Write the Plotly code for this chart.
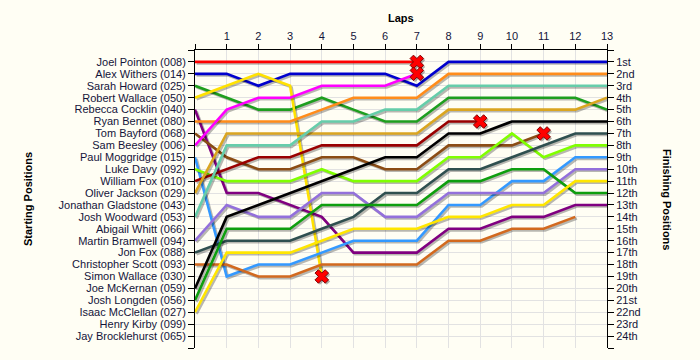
import plotly.graph_objects as go

# ---------------- data ----------------
laps = list(range(0, 14))
lap_labels = [""] + [str(i) for i in range(1, 14)]

starting_names = [
    "Joel Pointon (008)", "Alex Withers (014)", "Sarah Howard (025)",
    "Robert Wallace (050)", "Rebecca Cocklin (040)", "Ryan Bennet (080)",
    "Tom Bayford (068)", "Sam Beesley (006)", "Paul Moggridge (015)",
    "Luke Davy (092)", "William Fox (010)", "Oliver Jackson (029)",
    "Jonathan Gladstone (043)", "Josh Woodward (053)", "Abigail Whitt (066)",
    "Martin Bramwell (094)", "Jon Fox (088)", "Christopher Scott (093)",
    "Simon Wallace (030)", "Joe McKernan (059)", "Josh Longden (056)",
    "Isaac McClellan (027)", "Henry Kirby (099)", "Jay Brocklehurst (065)",
]
finishing_labels = [
    "1st", "2nd", "3rd", "4th", "5th", "6th", "7th", "8th", "9th", "10th",
    "11th", "12th", "13th", "14th", "15th", "16th", "17th", "18th", "19th",
    "20th", "21st", "22nd", "23rd", "24th",
]

# position on each lap (lap 0 = grid)
pointon   = [1, 1, 1, 1, 1, 1, 1, 1]
withers   = [2, 2, 3, 2, 2, 2, 2, 3, 1, 1, 1, 1, 1, 1]
howard    = [3, 4, 5, 5, 4, 5, 6, 6, 4, 4, 4, 4, 4, 5]
r_wallace = [4, 3, 2, 3, 19]
cocklin   = [5, 12, 12, 13, 14, 17, 17, 17, 15, 15, 14, 14, 13, 13]
bennet    = [6, 6, 6, 6, 5, 4, 4, 4, 2, 2, 2, 2, 2, 2]
bayford   = [7, 9, 10, 10, 9, 9, 10, 10, 8, 8, 8, 7]
beesley   = [8, 5, 4, 4, 3, 3, 3, 2]
moggridge = [9, 19, 18, 18, 17, 16, 16, 16, 13, 13, 11, 11, 9, 9]
davy      = [10, 11, 11, 11, 10, 11, 11, 11, 9, 9, 7, 9, 8, 8]
w_fox     = [11, 10, 9, 9, 8, 8, 8, 8, 6, 6]
jackson   = [12, 7, 7, 7, 7, 7, 7, 7, 5, 5, 5, 5, 5, 4]
woodward  = [14, 8, 8, 8, 6, 6, 5, 5, 3, 3, 3, 3, 3, 3]
bramwell  = [16, 13, 14, 14, 12, 12, 14, 14, 12, 12, 12, 12, 10, 10]
j_fox     = [17, 16, 16, 16, 15, 14, 12, 12, 10, 10, 9, 8, 7, 7]
scott     = [18, 18, 19, 19, 18, 18, 18, 18, 16, 16, 15, 15, 14]
mckernan  = [20, 14, 13, 12, 11, 10, 9, 9, 7, 7, 6, 6, 6, 6]
longden   = [21, 15, 15, 15, 13, 13, 13, 13, 11, 11, 10, 10, 12, 12]
mcclellan = [22, 17, 17, 17, 16, 15, 15, 15, 14, 14, 13, 13, 11, 11]

series = [
    ("Joel Pointon", pointon, "#FF0000", True),
    ("Alex Withers", withers, "#0000CD", False),
    ("Sarah Howard", howard, "#1E9E1E", False),
    ("Robert Wallace", r_wallace, "#FFE100", True),
    ("Rebecca Cocklin", cocklin, "#800080", False),
    ("Ryan Bennet", bennet, "#FF8C1A", False),
    ("Tom Bayford", bayford, "#8B4C14", True),
    ("Sam Beesley", beesley, "#FF00FF", True),
    ("Paul Moggridge", moggridge, "#3399FF", False),
    ("Luke Davy", davy, "#80FF00", False),
    ("William Fox", w_fox, "#990000", True),
    ("Oliver Jackson", jackson, "#DAA520", False),
    ("Josh Woodward", woodward, "#66CDAA", False),
    ("Martin Bramwell", bramwell, "#9370DB", False),
    ("Jon Fox", j_fox, "#2F4F4F", False),
    ("Christopher Scott", scott, "#D2691E", False),
    ("Joe McKernan", mckernan, "#000000", False),
    ("Josh Longden", longden, "#0E9E0E", False),
    ("Isaac McClellan", mcclellan, "#FFE600", False),
]

# ---------------- figure ----------------
W, H = 700, 360
ML, MR, MT, MB = 195, 93, 50, 12
PW, PH = W - ML - MR, H - MT - MB
NLAP, NPOS = 13, 25
# shadow offset (pixels converted to axis units)
sdx = 1.6 * NLAP / PW
sdy = 1.6 * NPOS / PH

fig = go.Figure()

for name, pos, col, retired in series:
    xs = laps[:len(pos)]
    fig.add_trace(go.Scatter(
        x=[v + sdx for v in xs], y=[v + sdy for v in pos], mode="lines",
        line=dict(color="rgba(0,0,0,0.28)", width=2.6),
        hoverinfo="skip", showlegend=False))
    fig.add_trace(go.Scatter(
        x=xs, y=pos, mode="lines", name=name,
        line=dict(color=col, width=2.6), showlegend=False))

ret_x, ret_y = [], []
for name, pos, col, retired in series:
    if retired:
        ret_x.append(laps[len(pos) - 1])
        ret_y.append(pos[-1])

fig.add_trace(go.Scatter(
    x=[v + sdx for v in ret_x], y=[v + sdy for v in ret_y], mode="markers",
    marker=dict(symbol="x", size=12, color="rgba(0,0,0,0.3)",
                line=dict(width=0)),
    hoverinfo="skip", showlegend=False))
fig.add_trace(go.Scatter(
    x=ret_x, y=ret_y, mode="markers",
    marker=dict(symbol="x", size=12, color="#FF0000",
                line=dict(color="#800000", width=1)),
    showlegend=False, name="Retired"))

# anchor trace for the right axis
fig.add_trace(go.Scatter(x=[0], y=[0], yaxis="y2", mode="markers",
                         marker=dict(opacity=0), hoverinfo="skip",
                         showlegend=False))

txt = "#14143A"
tick_font = dict(family="Liberation Sans, Arial, sans-serif", size=11, color=txt)
title_font = dict(family="Liberation Sans, Arial, sans-serif", size=11,
                  color="#000000")
bg = "#FFFEF4"

fig.update_layout(
    width=W, height=H, autosize=False,
    margin=dict(l=ML, r=MR, t=MT, b=MB, pad=0),
    paper_bgcolor=bg, plot_bgcolor=bg,
    showlegend=False,
    xaxis=dict(
        range=[0, NLAP], side="top", tickmode="array",
        tickvals=laps, ticktext=lap_labels,
        ticks="outside", ticklen=5, tickcolor="#000000", tickwidth=1,
        showline=True, linecolor="#000000", linewidth=1,
        showgrid=True, gridcolor="#E2E2E2", gridwidth=1,
        zeroline=False, tickfont=tick_font, fixedrange=True,
    ),
    yaxis=dict(
        range=[NPOS, 0], tickmode="array",
        tickvals=list(range(0, NPOS + 1)),
        ticktext=[""] + starting_names + [""],
        ticks="outside", ticklen=6, tickcolor="#000000", tickwidth=1,
        showline=True, linecolor="#000000", linewidth=1,
        showgrid=True, gridcolor="#E2E2E2", gridwidth=1,
        zeroline=False, tickfont=tick_font, fixedrange=True,
    ),
    yaxis2=dict(
        range=[NPOS, 0], overlaying="y", side="right", tickmode="array",
        tickvals=list(range(0, NPOS + 1)),
        ticktext=[""] + finishing_labels + [""],
        ticks="outside", ticklen=6, tickcolor="#000000", tickwidth=1,
        showline=True, linecolor="#000000", linewidth=1,
        showgrid=False, zeroline=False, tickfont=tick_font, fixedrange=True,
    ),
    annotations=[
        dict(text="<b>Laps</b>", xref="paper", yref="paper",
             x=0.5, y=1 + (MT - 18) / PH, xanchor="center", yanchor="middle",
             showarrow=False, font=title_font),
        dict(text="<b>Starting Positions</b>", xref="paper", yref="paper",
             x=(28 - ML) / PW, y=0.5, xanchor="center", yanchor="middle",
             textangle=-90, showarrow=False, font=title_font),
        dict(text="<b>Finishing Positions</b>", xref="paper", yref="paper",
             x=(667 - ML) / PW, y=0.5, xanchor="center", yanchor="middle",
             textangle=90, showarrow=False, font=title_font),
    ],
)

fig.write_html(
    "out.html",
    config={"displayModeBar": False},
    post_script="document.body.style.margin='0';"
                "document.body.style.background='" + bg + "';",
)
